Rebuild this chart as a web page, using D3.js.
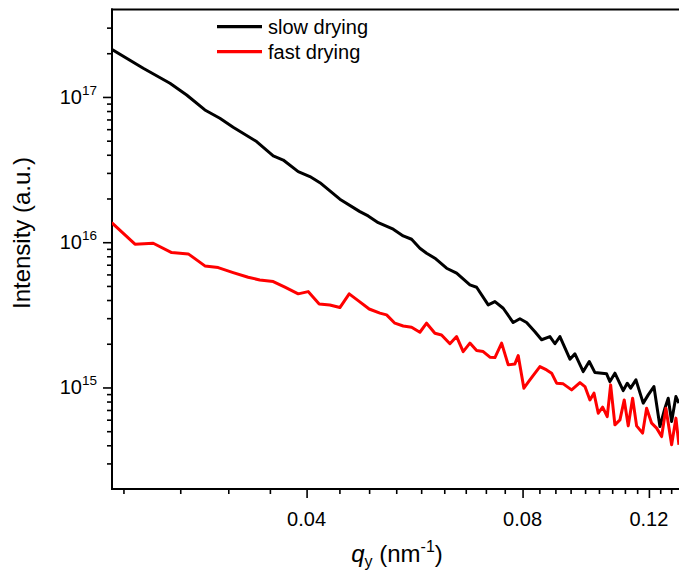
<!DOCTYPE html>
<html><head><meta charset="utf-8">
<script src="https://cdn.jsdelivr.net/npm/d3@7"></script>
<style>body{margin:0;background:#fff}svg{display:block}text{font-family:"Liberation Sans",Arial,Helvetica,sans-serif;fill:#000}</style>
</head><body><svg id="c" width="679" height="571"></svg>
<script>
// ---- data ----
const seriesNames = ["slow drying", "fast drying"];
const seriesColors = ["#000000", "#ff0000"];
const slowQ = [0.02140,0.02368,0.02580,0.02722,0.02886,0.03028,0.03160,0.03407,0.03594,0.03711,0.03894,0.04043,0.04175,0.04451,0.04746,0.04874,0.05034,0.05282,0.05454,0.05603,0.05754,0.05879,0.06038,0.06269,0.06474,0.06756,0.06903,0.07165,0.07321,0.07518,0.07763,0.07932,0.08104,0.08324,0.08504,0.08734,0.08876,0.09019,0.09314,0.09464,0.09720,0.09909,0.10092,0.10477,0.10589,0.10760,0.11051,0.11194,0.11316,0.11511,0.11783,0.11974,0.12195,0.12432,0.12633,0.12768,0.12908,0.13087,0.13214];
const slowI = [2.13e17,1.576e17,1.243e17,1.032e17,8.14e16,7.13e16,6.19e16,4.93e16,3.93e16,3.68e16,3.06e16,2.83e16,2.57e16,1.977e16,1.624e16,1.517e16,1.364e16,1.229e16,1.105e16,1.048e16,9.09e15,8.40e15,7.76e15,6.62e15,6.12e15,5.08e15,4.90e15,3.70e15,3.90e15,3.51e15,2.80e15,2.97e15,2.80e15,2.42e15,2.13e15,2.24e15,2.00e15,2.24e15,1.566e15,1.703e15,1.286e15,1.508e15,1.266e15,1.241e15,1.098e15,1.254e15,9.52e14,1.070e15,9.89e14,1.128e15,7.80e14,8.89e14,1.014e15,5.38e14,7.20e14,8.44e14,5.83e14,8.66e14,7.80e14];
const fastQ = [0.02140,0.02306,0.02445,0.02594,0.02736,0.02886,0.03012,0.03160,0.03316,0.03442,0.03594,0.03731,0.03894,0.04020,0.04165,0.04310,0.04451,0.04586,0.04720,0.04890,0.05061,0.05171,0.05310,0.05454,0.05603,0.05754,0.05879,0.06038,0.06168,0.06336,0.06474,0.06612,0.06756,0.06903,0.07050,0.07204,0.07321,0.07480,0.07640,0.07806,0.07889,0.08034,0.08190,0.08458,0.08642,0.08782,0.08924,0.09115,0.09364,0.09618,0.09773,0.09931,0.10060,0.10200,0.10344,0.10498,0.10613,0.10760,0.10935,0.11087,0.11230,0.11389,0.11536,0.11760,0.11912,0.12106,0.12301,0.12500,0.12674,0.12908,0.13087,0.13214];
const fastI = [1.364e16,9.69e15,9.84e15,8.48e15,8.31e15,6.87e15,6.69e15,6.18e15,5.74e15,5.50e15,5.36e15,4.90e15,4.41e15,4.57e15,3.76e15,3.70e15,3.55e15,4.41e15,3.96e15,3.47e15,3.25e15,3.16e15,2.77e15,2.65e15,2.60e15,2.40e15,2.77e15,2.36e15,2.30e15,2.00e15,2.24e15,1.766e15,2.02e15,1.794e15,1.766e15,1.616e15,1.606e15,2.02e15,1.431e15,1.453e15,1.658e15,9.89e14,1.128e15,1.393e15,1.321e15,1.254e15,1.070e15,1.059e15,9.63e14,1.081e15,1.014e15,8.21e14,9.14e14,6.65e14,7.32e14,6.30e14,1.042e15,5.53e14,5.98e14,8.21e14,5.44e14,8.44e14,5.44e14,4.85e14,7.20e14,5.68e14,5.25e14,4.59e14,7.20e14,4.03e14,6.15e14,4.03e14];
const xMajorTicks = [0.04, 0.08, 0.12];
const xTickLabels = ["0.04", "0.08", "0.12"];
const yMajorTicks = [1e15, 1e16, 1e17];
const yTickExponents = ["15", "16", "17"];

// ---- layout ----
const L = 112, T = 9.5, B = 489, Rr = 686;
const svg = d3.select("#c");
const x = d3.scaleLog().domain([0.0214, 0.135]).range([111.7, 685.6]);
const y = d3.scaleLog().domain([2e14, 4e17]).range([B, T]);

// minor ticks
const xStep = 0.04 / 9;
const xMinor = [];
for (let k = -5; k <= 30; k++) {
  const v = 0.04 + k * xStep;
  if (v > 0.0214 && v < 0.135 && !xMajorTicks.some(m => Math.abs(m - v) < 1e-6)) xMinor.push(v);
}
const yMinor = [];
for (let e = 14; e <= 17; e++) for (let m = 2; m <= 9; m++) {
  const v = m * Math.pow(10, e);
  if (v > 2.05e14 && v < 3.95e17) yMinor.push(v);
}

function styleAxis(g) {
  g.select(".domain").remove();
  g.selectAll("line").attr("stroke", "#000").attr("stroke-width", 1.6);
}
svg.append("g").attr("transform", `translate(0,${B})`)
  .call(d3.axisBottom(x).tickValues(xMinor).tickSize(5).tickFormat("")).call(styleAxis);
svg.append("g").attr("transform", `translate(0,${B})`)
  .call(d3.axisBottom(x).tickValues(xMajorTicks).tickSize(9).tickFormat("")).call(styleAxis);
svg.append("g").attr("transform", `translate(${L},0)`)
  .call(d3.axisLeft(y).tickValues(yMinor).tickSize(5).tickFormat("")).call(styleAxis);
svg.append("g").attr("transform", `translate(${L},0)`)
  .call(d3.axisLeft(y).tickValues(yMajorTicks).tickSize(9).tickFormat("")).call(styleAxis);

// frame lines
const frame = svg.append("g").attr("stroke", "#000").attr("stroke-width", 2).attr("fill", "none");
frame.append("line").attr("x1", L).attr("x2", L).attr("y1", T - 1).attr("y2", B + 1);
frame.append("line").attr("x1", L - 1).attr("x2", 690).attr("y1", B).attr("y2", B);
frame.append("line").attr("x1", L - 1).attr("x2", 690).attr("y1", T).attr("y2", T);

// tick labels
svg.append("g").selectAll("text").data(xMajorTicks).join("text")
  .attr("x", d => x(d)).attr("y", 526).attr("text-anchor", "middle")
  .attr("font-size", 20).text((d, i) => xTickLabels[i]);
const yl = svg.append("g").selectAll("text").data(yMajorTicks).join("text")
  .attr("x", 97).attr("y", d => y(d) + 7).attr("text-anchor", "end").attr("font-size", 20);
yl.append("tspan").text("10");
yl.append("tspan").attr("font-size", 13.5).attr("dy", -9).text((d, i) => yTickExponents[i]);

// axis titles
const xt = svg.append("text").attr("x", 397).attr("y", 562).attr("text-anchor", "middle").attr("font-size", 24);
xt.append("tspan").attr("font-style", "italic").text("q");
xt.append("tspan").attr("font-size", 16).attr("dy", 5).text("y");
xt.append("tspan").attr("dy", -5).text(" (nm");
xt.append("tspan").attr("font-size", 16).attr("dy", -10).text("-1");
xt.append("tspan").attr("dy", 10).text(")");
svg.append("text").attr("transform", "translate(30,233) rotate(-90)")
  .attr("text-anchor", "middle").attr("font-size", 24).text("Intensity (a.u.)");

// data lines
svg.append("clipPath").attr("id", "clip").append("rect")
  .attr("x", L).attr("y", T).attr("width", Rr - L).attr("height", B - T);
const line = d3.line().x(d => x(d[0])).y(d => y(d[1]));
const series = [d3.zip(slowQ, slowI), d3.zip(fastQ, fastI)];
svg.append("g").attr("clip-path", "url(#clip)").selectAll("path").data(series).join("path")
  .attr("d", line).attr("fill", "none")
  .attr("stroke", (d, i) => seriesColors[i]).attr("stroke-width", 3)
  .attr("stroke-linejoin", "round");

// legend
const lg = svg.append("g").selectAll("g").data(seriesNames).join("g")
  .attr("transform", (d, i) => `translate(0,${26.7 + i * 25})`);
lg.append("line").attr("x1", 217).attr("x2", 262).attr("y1", 0).attr("y2", 0)
  .attr("stroke", (d, i) => seriesColors[i]).attr("stroke-width", 3.3);
lg.append("text").attr("x", 268).attr("y", 7.5).attr("font-size", 20).text(d => d);
</script></body></html>
